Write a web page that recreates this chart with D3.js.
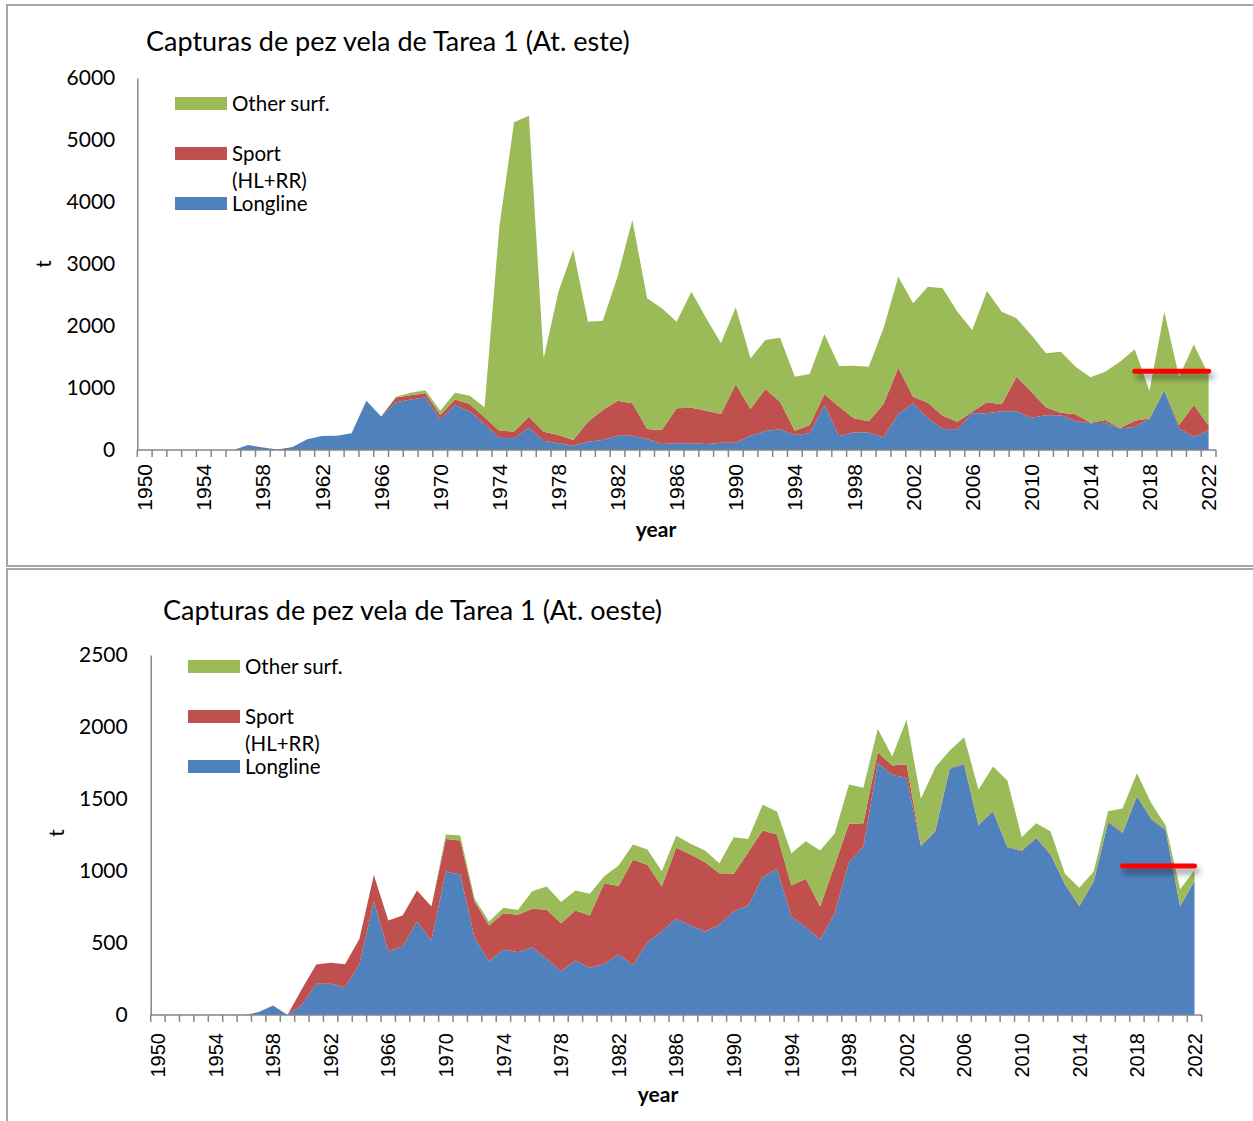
<!DOCTYPE html>
<html>
<head>
<meta charset="utf-8">
<script src="https://cdn.jsdelivr.net/npm/d3@7"></script>
<style>
  body { margin: 0; background: #fff; }
  svg { display: block; }
</style>
</head>
<body>
<svg id="chart" width="1253" height="1121"></svg>
<script>
// Task 1 sailfish catches (t) by gear group, 1950-2022
const years = d3.range(1950, 2023);
const xTickLabels = [1950, 1954, 1958, 1962, 1966, 1970, 1974, 1978, 1982, 1986, 1990, 1994, 1998, 2002, 2006, 2010, 2014, 2018, 2022];

// Eastern Atlantic stock
const eastLongline = [
  0, 0, 0, 0, 0, 0, 0, 80, 40, 10,
  50, 175, 225, 230, 270, 795, 540, 770, 815, 845,
  495, 725, 620, 420, 199, 188, 360, 151, 108, 70,
  134, 161, 231, 231, 177, 97, 108, 108, 97, 118,
  118, 231, 306, 333, 242, 269, 726, 226, 285, 282,
  204, 581, 753, 511, 339, 333, 591, 591, 624, 624,
  522, 559, 559, 468, 430, 441, 345, 370, 505, 960,
  349, 210, 318
];
const eastSport = [
  0, 0, 0, 0, 0, 0, 0, 0, 0, 0,
  0, 0, 0, 0, 0, 0, 0, 75, 70, 70,
  70, 90, 120, 110, 112, 110, 178, 144, 134, 91,
  323, 484, 565, 522, 162, 226, 564, 575, 537, 463,
  941, 430, 678, 447, 69, 134, 172, 473, 226, 180,
  538, 747, 107, 252, 215, 124, 27, 178, 113, 559,
  419, 129, 43, 107, 11, 43, 10, 100, 6, 8,
  54, 516, 77
];
const eastOther = [
  0, 0, 0, 0, 0, 0, 0, 0, 0, 0,
  0, 0, 0, 0, 0, 0, 0, 15, 40, 50,
  70, 110, 135, 160, 3289, 4987, 4855, 1183, 2312, 3065,
  1613, 1441, 2000, 2957, 2107, 1962, 1398, 1871, 1490, 1139,
  1242, 817, 790, 1032, 872, 823, 968, 656, 849, 882,
  1220, 1468, 1506, 1871, 2054, 1774, 1317, 1796, 1494, 941,
  914, 871, 984, 769, 731, 779, 1070, 1154, 439, 1263,
  780, 974, 815
];
const eastYTicks = [0, 1000, 2000, 3000, 4000, 5000, 6000];
const eastRef = { from: 2017, to: 2022, value: 1271 };

// Western Atlantic stock
const westLongline = [
  0, 0, 0, 0, 0, 0, 0, 20, 66, 0,
  71, 217, 217, 193, 355, 788, 443, 478, 649, 517,
  997, 976, 534, 374, 455, 436, 471, 390, 302, 378,
  328, 355, 420, 348, 506, 582, 668, 622, 580, 626,
  721, 760, 957, 1015, 684, 610, 524, 703, 1061, 1170,
  1749, 1668, 1645, 1170, 1276, 1710, 1740, 1316, 1413, 1165,
  1137, 1228, 1115, 906, 753, 927, 1339, 1262, 1518, 1360,
  1281, 753, 928
];
const westSport = [
  0, 0, 0, 0, 0, 0, 0, 0, 0, 0,
  109, 134, 145, 160, 174, 185, 213, 213, 216, 236,
  226, 236, 254, 248, 252, 260, 266, 341, 335, 348,
  363, 560, 475, 730, 537, 310, 493, 493, 481, 359,
  260, 371, 324, 238, 215, 336, 229, 337, 267, 162,
  76, 65, 97, 5, 5, 5, 5, 5, 5, 5,
  5, 5, 5, 5, 5, 5, 5, 5, 5, 5,
  5, 5, 5
];
const westOther = [
  0, 0, 0, 0, 0, 0, 0, 0, 0, 0,
  0, 0, 0, 0, 0, 0, 0, 0, 0, 0,
  30, 35, 19, 27, 37, 34, 123, 161, 147, 139,
  151, 49, 143, 106, 106, 107, 83, 74, 81, 69,
  254, 92, 179, 160, 225, 261, 389, 218, 272, 246,
  162, 62, 308, 326, 440, 122, 184, 243, 308, 458,
  93, 99, 156, 70, 125, 65, 71, 167, 156, 105,
  30, 115, 72
];
const westYTicks = [0, 500, 1000, 1500, 2000, 2500];
const westRef = { from: 2017, to: 2022, value: 1035 };

const seriesKeys = ["longline", "sport", "other"];
const seriesColors = { longline: "#4f81bd", sport: "#c0504d", other: "#9bbb59" };
const legendItems = [
  { key: "other", lines: ["Other surf."] },
  { key: "sport", lines: ["Sport", "(HL+RR)"] },
  { key: "longline", lines: ["Longline"] }
];

const svg = d3.select("#chart");
const defs = svg.append("defs");
// user-space filter region so a flat horizontal line still gets its shadow
const shadow = defs.append("filter").attr("id", "lineShadow")
  .attr("filterUnits", "userSpaceOnUse")
  .attr("x", 0).attr("y", 0).attr("width", 1253).attr("height", 1121);
shadow.append("feDropShadow")
  .attr("dx", 3).attr("dy", 5).attr("stdDeviation", 3)
  .attr("flood-color", "#000").attr("flood-opacity", 0.45);

// panel frames
svg.append("rect").attr("x", 7).attr("y", 5).attr("width", 1262).attr("height", 561)
  .attr("fill", "none").attr("stroke", "#a6a6a6").attr("stroke-width", 2);
svg.append("rect").attr("x", 7).attr("y", 569).attr("width", 1262).attr("height", 580)
  .attr("fill", "none").attr("stroke", "#a6a6a6").attr("stroke-width", 2);

function drawPanel(p) {
  const g = svg.append("g");

  const x = d3.scaleBand().domain(years).range([p.x0, p.x1]).padding(0);
  const cx = yr => x(yr) + x.bandwidth() / 2;
  const y = d3.scaleLinear().domain([0, p.yMax]).range([p.y0, p.yTop]);

  const rows = years.map((yr, i) => ({
    year: yr, longline: p.longline[i], sport: p.sport[i], other: p.other[i]
  }));
  const layers = d3.stack().keys(seriesKeys)(rows);
  const area = d3.area()
    .x(d => cx(d.data.year))
    .y0(d => y(d[0]))
    .y1(d => y(d[1]));

  g.append("g").selectAll("path")
    .data(layers)
    .join("path")
    .attr("d", area)
    .attr("fill", d => seriesColors[d.key]);

  // value axis
  const yAxis = d3.axisLeft(y).tickValues(p.yTicks).tickSize(0).tickPadding(p.yPad).tickFormat(d3.format("d"));
  const yg = g.append("g").attr("transform", `translate(${p.x0},0)`).call(yAxis);
  yg.select(".domain").attr("stroke", "#868686").attr("stroke-width", 1.5);
  yg.selectAll("text")
    .attr("font-family", "Lato, 'Open Sans', sans-serif")
    .attr("font-size", 21).attr("fill", "#000");

  // category axis: line, boundary ticks, rotated year labels
  g.append("line")
    .attr("x1", p.x0).attr("x2", p.x1).attr("y1", y(0)).attr("y2", y(0))
    .attr("stroke", "#868686").attr("stroke-width", 1.5);
  const bounds = years.map(yr => x(yr)).concat([p.x1]);
  g.append("g").selectAll("line")
    .data(bounds)
    .join("line")
    .attr("x1", d => d).attr("x2", d => d)
    .attr("y1", y(0)).attr("y2", y(0) + 7)
    .attr("stroke", "#868686").attr("stroke-width", 1.5);
  g.append("g").selectAll("text")
    .data(xTickLabels)
    .join("text")
    .attr("transform", d => `translate(${cx(d)},${y(0) + p.xLabelGap}) rotate(-90)`)
    .attr("text-anchor", "end")
    .attr("dy", "0.36em")
    .attr("font-family", "'Liberation Sans', Arial, sans-serif")
    .attr("font-size", p.xLabelSize)
    .attr("fill", "#000")
    .text(d => d);

  // axis titles
  g.append("text")
    .attr("x", p.xTitle[0]).attr("y", p.xTitle[1])
    .attr("text-anchor", "middle")
    .attr("font-family", "Lato, sans-serif").attr("font-weight", "bold")
    .attr("font-size", 21).attr("fill", "#000")
    .text("year");
  g.append("text")
    .attr("transform", `translate(${p.yTitle[0]},${p.yTitle[1]}) rotate(-90)`)
    .attr("text-anchor", "middle")
    .attr("dy", "0.35em")
    .attr("font-family", "Lato, sans-serif")
    .attr("font-size", 21).attr("fill", "#000")
    .text("t");

  // chart title
  g.append("text")
    .attr("x", p.title[0]).attr("y", p.title[1])
    .attr("font-family", "Lato, sans-serif")
    .attr("font-size", 27).attr("fill", "#000")
    .text(p.titleText);

  // legend
  const lg = g.append("g");
  legendItems.forEach((item, i) => {
    const top = p.legend[1] + i * 50;
    lg.append("rect")
      .attr("x", p.legend[0]).attr("y", top)
      .attr("width", 52).attr("height", 13)
      .attr("fill", seriesColors[item.key]);
    item.lines.forEach((ln, j) => {
      lg.append("text")
        .attr("x", p.legend[0] + 57).attr("y", top + 6.5 + j * 27)
        .attr("dy", "0.35em")
        .attr("font-family", "Lato, sans-serif")
        .attr("font-size", 20.5).attr("fill", "#000")
        .text(ln);
    });
  });

  // reference level, last years
  g.append("line")
    .attr("x1", cx(p.ref.from)).attr("x2", cx(p.ref.to))
    .attr("y1", y(p.ref.value)).attr("y2", y(p.ref.value))
    .attr("stroke", "#ff0000").attr("stroke-width", 5)
    .attr("stroke-linecap", "round")
    .attr("filter", "url(#lineShadow)");
}

drawPanel({
  x0: 137.3, x1: 1216, y0: 450, yTop: 78, yMax: 6000,
  yTicks: eastYTicks, yPad: 22,
  longline: eastLongline, sport: eastSport, other: eastOther,
  ref: eastRef,
  xLabelGap: 14, xLabelSize: 21,
  xTitle: [656, 537], yTitle: [44, 264],
  title: [146, 51], titleText: "Capturas de pez vela de Tarea 1 (At. este)",
  legend: [175, 97]
});

drawPanel({
  x0: 150.7, x1: 1201.7, y0: 1015, yTop: 655, yMax: 2500,
  yTicks: westYTicks, yPad: 23,
  longline: westLongline, sport: westSport, other: westOther,
  ref: westRef,
  xLabelGap: 18, xLabelSize: 20,
  xTitle: [658, 1102], yTitle: [57, 833],
  title: [163, 620], titleText: "Capturas de pez vela de Tarea 1 (At. oeste)",
  legend: [188, 660]
});
</script>
</body>
</html>
